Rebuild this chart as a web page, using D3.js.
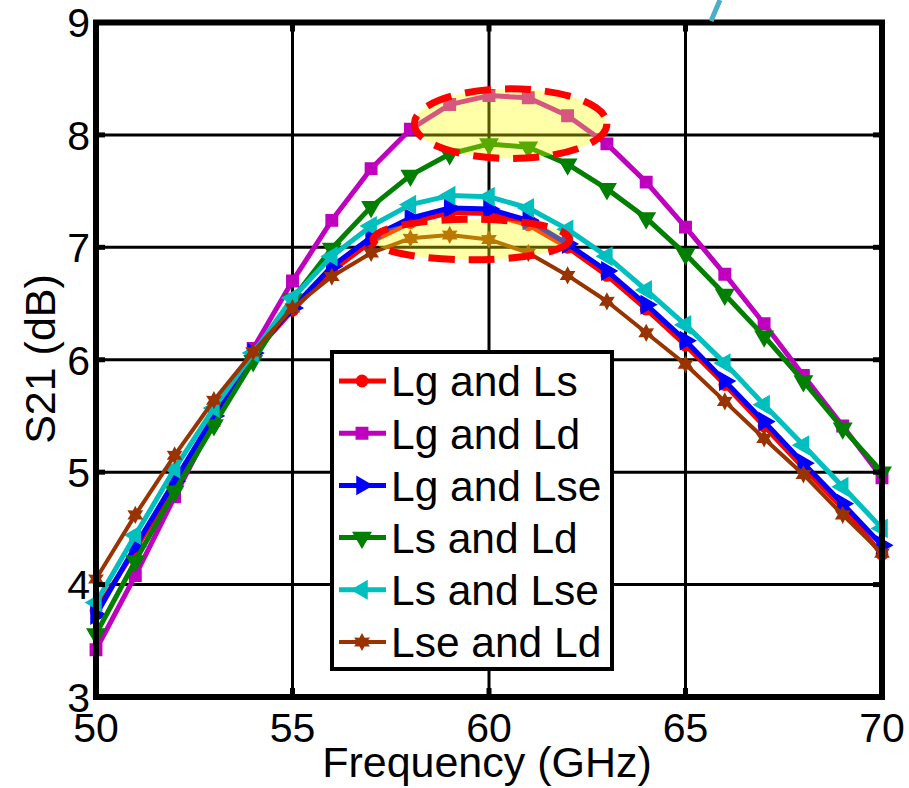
<!DOCTYPE html>
<html>
<head>
  <meta charset="utf-8">
  <script src="https://cdn.jsdelivr.net/npm/d3@7"></script>
  <style>
    body { margin: 0; background: #fff; }
    svg text { font-family: "Liberation Sans", Arial, sans-serif; fill: #000; }
  </style>
</head>
<body>
  <svg id="chart" width="909" height="788"></svg>
  <script>
    // frequency points (GHz)
    var freq = [50, 51, 52, 53, 54, 55, 56, 57, 58, 59, 60, 61, 62, 63, 64, 65, 66, 67, 68, 69, 70];

    // S21 (dB)
    var lgLs  = [3.77, 4.31, 4.89, 5.48, 6.05, 6.44, 6.79, 7.05, 7.22, 7.31, 7.30, 7.20, 7.00, 6.75, 6.45, 6.13, 5.78, 5.41, 5.04, 4.68, 4.27];
    var lgLd  = [3.42, 4.08, 4.78, 5.46, 6.10, 6.70, 7.24, 7.70, 8.05, 8.27, 8.35, 8.33, 8.17, 7.92, 7.58, 7.18, 6.76, 6.32, 5.86, 5.41, 4.95];
    var lgLse = [3.73, 4.34, 4.92, 5.50, 6.06, 6.46, 6.83, 7.09, 7.26, 7.35, 7.34, 7.24, 7.03, 6.79, 6.49, 6.17, 5.81, 5.45, 5.08, 4.72, 4.35];
    var lsLd  = [3.56, 4.21, 4.83, 5.42, 5.99, 6.54, 6.99, 7.36, 7.64, 7.83, 7.92, 7.89, 7.74, 7.52, 7.26, 6.94, 6.58, 6.21, 5.81, 5.39, 5.00];
    var lsLse = [3.84, 4.44, 5.03, 5.57, 6.06, 6.55, 6.92, 7.19, 7.38, 7.46, 7.45, 7.35, 7.16, 6.92, 6.62, 6.31, 5.97, 5.60, 5.24, 4.87, 4.50];
    var lseLd = [4.05, 4.62, 5.15, 5.64, 6.07, 6.46, 6.74, 6.95, 7.08, 7.11, 7.07, 6.95, 6.75, 6.52, 6.24, 5.96, 5.63, 5.30, 4.98, 4.62, 4.28];

    var seriesNames = ['Lg and Ls', 'Lg and Ld', 'Lg and Lse', 'Ls and Ld', 'Ls and Lse', 'Lse and Ld'];
    var seriesValues = [lgLs, lgLd, lgLse, lsLd, lsLse, lseLd];
    var seriesColors = ['#ff0000', '#bf00bf', '#0000ff', '#007f00', '#00bfbf', '#993300'];
    var seriesMarkers = ['circle', 'square', 'triRight', 'triDown', 'triLeft', 'hexagram'];

    var xTicks = [50, 55, 60, 65, 70];
    var yTicks = [3, 4, 5, 6, 7, 8, 9];

    // highlighted regions: [centre freq, centre dB, half-width GHz, half-height dB]
    var ovalTop = [60.55, 8.10, 2.45, 0.31];
    var ovalBottom = [59.55, 7.07, 2.5, 0.18];

    var svg = d3.select('#chart');
    var pLeft = 96, pRight = 882, pTop = 22.5, pBottom = 697;

    var x = d3.scaleLinear().domain([50, 70]).range([pLeft, pRight]);
    var y = d3.scaleLinear().domain([3, 9]).range([pBottom, pTop]);

    // grid
    svg.append('g').selectAll('line').data(xTicks.slice(1, -1)).join('line')
      .attr('x1', d => x(d)).attr('x2', d => x(d))
      .attr('y1', pTop).attr('y2', pBottom)
      .attr('stroke', '#000').attr('stroke-width', 3);
    svg.append('g').selectAll('line').data(yTicks.slice(1, -1)).join('line')
      .attr('x1', pLeft).attr('x2', pRight)
      .attr('y1', d => y(d)).attr('y2', d => y(d))
      .attr('stroke', '#000').attr('stroke-width', 3);

    // marker shapes
    function hexagram(r) {
      var p = [];
      for (var i = 0; i < 12; i++) {
        var a = Math.PI / 6 * i - Math.PI / 2;
        var rr = i % 2 === 0 ? r : r * 0.55;
        p.push([Math.cos(a) * rr, Math.sin(a) * rr]);
      }
      return 'M' + p.join('L') + 'Z';
    }
    function markerPath(kind) {
      if (kind === 'circle') return d3.symbol(d3.symbolCircle, 100)();
      if (kind === 'square') return d3.symbol(d3.symbolSquare, 130)();
      if (kind === 'hexagram') return hexagram(7.5);
      return d3.symbol(d3.symbolTriangle, 130)();
    }
    function markerRot(kind) {
      if (kind === 'triRight') return 90;
      if (kind === 'triDown') return 180;
      if (kind === 'triLeft') return -90;
      return 0;
    }

    var line = d3.line().x((d, i) => x(freq[i])).y(d => y(d));

    var plot = svg.append('g');
    seriesValues.forEach(function (vals, k) {
      var g = plot.append('g');
      g.append('path').datum(vals)
        .attr('d', line)
        .attr('fill', 'none')
        .attr('stroke', seriesColors[k])
        .attr('stroke-width', k === 5 ? 4 : 5)
        .attr('stroke-linejoin', 'round');
      g.selectAll('path.mk').data(vals).join('path')
        .attr('class', 'mk')
        .attr('d', markerPath(seriesMarkers[k]))
        .attr('transform', (d, i) => 'translate(' + x(freq[i]) + ',' + y(d) + ') rotate(' + markerRot(seriesMarkers[k]) + ')')
        .attr('fill', seriesColors[k])
        .attr('stroke', seriesColors[k])
        .attr('stroke-width', 1.5);
    });

    // highlight ovals
    [ovalTop, ovalBottom].forEach(function (o) {
      var cx = x(o[0]), cy = y(o[1]);
      var rx = x(o[0] + o[2]) - cx, ry = cy - y(o[1] + o[3]);
      svg.append('ellipse')
        .attr('cx', cx).attr('cy', cy).attr('rx', rx).attr('ry', ry)
        .attr('fill', '#ffff00').attr('fill-opacity', 0.34)
        .attr('stroke', 'none');
      svg.append('ellipse')
        .attr('cx', cx).attr('cy', cy).attr('rx', rx).attr('ry', ry)
        .attr('fill', 'none')
        .attr('stroke', '#ff0000').attr('stroke-width', 7)
        .attr('stroke-dasharray', '26,14');
    });

    // axes box and inward ticks
    svg.append('rect')
      .attr('x', pLeft).attr('y', pTop)
      .attr('width', pRight - pLeft).attr('height', pBottom - pTop)
      .attr('fill', 'none').attr('stroke', '#000').attr('stroke-width', 6);

    var tk = svg.append('g').attr('stroke', '#000').attr('stroke-width', 5);
    xTicks.forEach(function (t) {
      tk.append('line').attr('x1', x(t)).attr('x2', x(t)).attr('y1', pBottom).attr('y2', pBottom - 9);
      tk.append('line').attr('x1', x(t)).attr('x2', x(t)).attr('y1', pTop).attr('y2', pTop + 9);
    });
    yTicks.forEach(function (t) {
      tk.append('line').attr('y1', y(t)).attr('y2', y(t)).attr('x1', pLeft).attr('x2', pLeft + 9);
      tk.append('line').attr('y1', y(t)).attr('y2', y(t)).attr('x1', pRight).attr('x2', pRight - 9);
    });

    // tick labels
    var fs = 41;
    svg.append('g').selectAll('text').data(xTicks).join('text')
      .attr('x', d => x(d)).attr('y', 742)
      .attr('text-anchor', 'middle')
      .style('font-size', fs + 'px')
      .text(d => d);
    svg.append('g').selectAll('text').data(yTicks).join('text')
      .attr('x', 90).attr('y', d => y(d))
      .attr('dy', '0.36em')
      .attr('text-anchor', 'end')
      .style('font-size', fs + 'px')
      .text(d => d);

    // axis titles
    svg.append('text')
      .attr('x', 487).attr('y', 777)
      .attr('text-anchor', 'middle')
      .style('font-size', '43px')
      .text('Frequency (GHz)');
    svg.append('text')
      .attr('transform', 'translate(55,359) rotate(-90)')
      .attr('text-anchor', 'middle')
      .style('font-size', '43px')
      .text('S21 (dB)');

    // annotation stroke above the axes
    svg.append('line')
      .attr('x1', 720).attr('y1', 0).attr('x2', 711).attr('y2', 21)
      .attr('stroke', '#4bafc8').attr('stroke-width', 5);

    // legend
    var legend = svg.append('g');
    legend.append('rect')
      .attr('x', 332).attr('y', 352).attr('width', 280).attr('height', 317)
      .attr('fill', '#fff').attr('stroke', '#000').attr('stroke-width', 4);
    seriesNames.forEach(function (name, k) {
      var ly = 381 + k * 52.2;
      legend.append('line')
        .attr('x1', 339).attr('x2', 386).attr('y1', ly).attr('y2', ly)
        .attr('stroke', seriesColors[k]).attr('stroke-width', k === 5 ? 4 : 5);
      legend.append('path')
        .attr('d', markerPath(seriesMarkers[k]))
        .attr('transform', 'translate(362,' + ly + ') rotate(' + markerRot(seriesMarkers[k]) + ')')
        .attr('fill', seriesColors[k]).attr('stroke', seriesColors[k]).attr('stroke-width', 1.5);
      legend.append('text')
        .attr('x', 391).attr('y', ly)
        .attr('dy', '0.36em')
        .style('font-size', '42.5px')
        .text(name);
    });
  </script>
</body>
</html>
